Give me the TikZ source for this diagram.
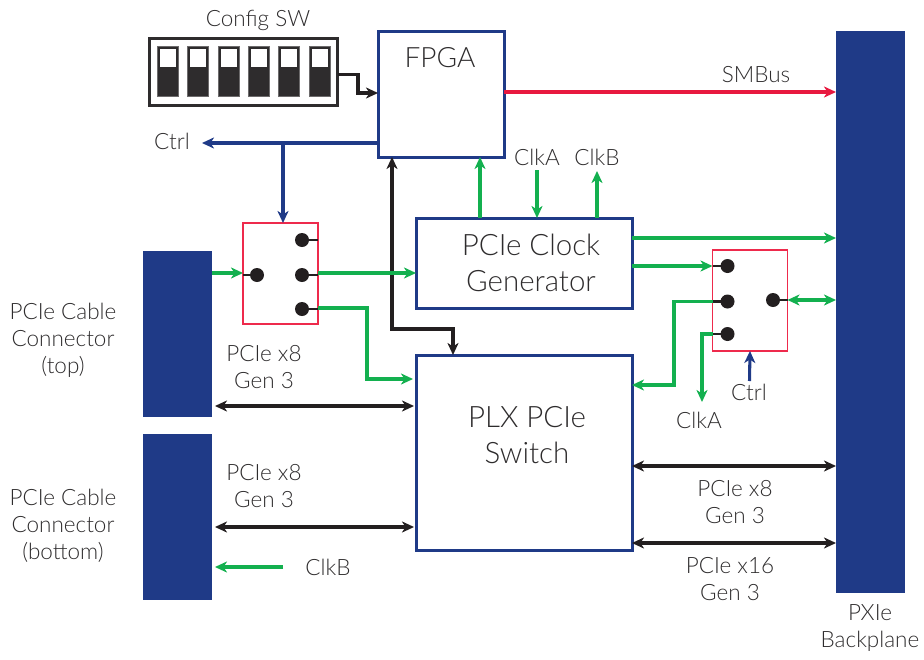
\documentclass[tikz,border=0pt]{standalone}
\usepackage{fontspec}
\setmainfont{Lato}[UprightFont=* Light]
\usetikzlibrary{arrows.meta,calc}
\definecolor{kblue}{HTML}{1F3A87}
\definecolor{kgreen}{HTML}{13B04F}
\definecolor{kred}{HTML}{E8193F}
\definecolor{kblack}{HTML}{231F20}
\definecolor{ktext}{HTML}{2E2C2D}
\definecolor{kpink}{HTML}{EE2A4C}
\tikzset{
 flow/.style={line width=3.05pt,-{Stealth[length=12pt,width=11pt,inset=3.5pt]}},
 both/.style={line width=3.05pt,{Stealth[length=12pt,width=11pt,inset=3.5pt]}-{Stealth[length=12pt,width=11pt,inset=3.5pt]}},
 blockbox/.style={draw=kblue,line width=3pt,fill=white,inner sep=0pt,outer sep=0pt},
 solid block/.style={fill=kblue,inner sep=0pt,outer sep=0pt},
 muxbox/.style={draw=kpink,line width=1.5pt,inner sep=0pt,outer sep=0pt,minimum width=75pt,minimum height=101pt},
 pin/.style={circle,fill=kblack,inner sep=0pt,outer sep=0pt,minimum size=14pt},
 stub/.style={line width=2.6pt,kblack},
 lab/.style={text=ktext,font=\fontsize{22.5}{27}\selectfont,align=center,inner sep=0pt},
 big/.style={text=ktext,font=\fontsize{29.5}{35.5}\selectfont,align=center,inner sep=0pt},
 slot/.style={fill=ktext,draw=ktext!70,line width=.8pt,minimum width=21pt,minimum height=50pt,inner sep=0pt,outer sep=0pt},
 slotw/.style={fill=white,minimum width=16pt,minimum height=18pt,inner sep=0pt,outer sep=0pt},
}
\begin{document}
\begin{tikzpicture}[x=1pt,y=-1pt]
\useasboundingbox (0,0) rectangle (924,659);
% solid blocks
\node[solid block,minimum width=69pt,minimum height=562pt] (back) at (870.5,312) {};
\node[solid block,minimum width=69pt,minimum height=166pt] (top) at (177.5,334) {};
\node[solid block,minimum width=69pt,minimum height=166pt] (bot) at (177.5,517) {};
% main boxes
\node[blockbox,minimum width=126pt,minimum height=126pt] (fpga) at (441,94) {};
\node[blockbox,minimum width=216pt,minimum height=90pt] (clk) at (524,263) {};
\node[blockbox,minimum width=216pt,minimum height=195pt] (plx) at (524,452.5) {};
% switch
\node[draw=ktext,line width=3pt,fill=white,minimum width=188pt,minimum height=67pt,inner sep=0pt,outer sep=0pt] (sw) at (243.5,72) {};
\foreach \i in {0,...,5}{
  \node[slot] (s\i) at ({168+30.3*\i},71.5) {};
  \node[slotw] (w\i) at ({168+30.3*\i},58) {};
}
% mux boxes
\node[muxbox] (m1) at (280.5,273.5) {};
\node[muxbox] (m2) at (750,300.5) {};
\node[pin] (a0) at (257,275) {};
\node[pin] (a1) at (302,240) {};
\node[pin] (a2) at (302,275) {};
\node[pin] (a3) at (302,309) {};
\node[pin] (b1) at (727.5,266) {};
\node[pin] (b2) at (727.5,301.5) {};
\node[pin] (b3) at (727.5,334) {};
\node[pin] (b0) at (773,300) {};
\draw[stub] (a0) -- (m1.west |- a0);
\draw[stub] (a1) -- (m1.east |- a1);
\draw[stub] (a2) -- (m1.east |- a2);
\draw[stub] (a3) -- (m1.east |- a3);
\draw[stub] (b1) -- (m2.west |- b1);
\draw[stub] (b2) -- (m2.west |- b2);
\draw[stub] (b3) -- (m2.west |- b3);
\draw[stub] (b0) -- (m2.east |- b0);
% labels
\node[lab] (tsw) at (258,20) {Config SW};
\node[big,font=\fontsize{28}{34}\selectfont] (tfpga) at (440,58) {FPGA};
\node[big] (tclk) at (531,263) {PCIe Clock\\Generator};
\node[big] (tplx) at (527,435) {PLX PCIe\\Switch};
\node[lab] (tctrl) at (172,141) {Ctrl};
\node[lab] (tca) at (537,157) {ClkA};
\node[lab] (tcb) at (597,157) {ClkB};
\node[lab] (tsm) at (756,75) {SMBus};
\node[lab] (ttop) at (63,340.5) {PCIe Cable\\Connector\\(top)};
\node[lab] (tbot) at (63,526) {PCIe Cable\\Connector\\(bottom)};
\node[lab] (p1) at (264,367.5) {PCIe x8\\Gen 3};
\node[lab] (p2) at (264,486.5) {PCIe x8\\Gen 3};
\node[lab] (p3) at (735,502.5) {PCIe x8\\Gen 3};
\node[lab] (p4) at (730,579.5) {PCIe x16\\Gen 3};
\node[lab] (tctrl2) at (749,392) {Ctrl};
\node[lab] (tca2) at (699,420) {ClkA};
\node[lab] (tcb2) at (328,567) {ClkB};
\node[lab] (tpx) at (870,628.5) {PXIe\\Backplane};
% helper coordinates for free ends
\coordinate (ctrlend) at (202,143);
\coordinate (caend) at (537,170);
\coordinate (cbend) at (597,171);
\coordinate (caout) at (702,402);
\coordinate (ctrlsrc) at (749.5,381);
\coordinate (cbsrc) at (283,567);
% connectors
\draw[flow,kblack] (sw.east |- 0,74.5) -- (358,74.5) -- (358,93) -- (fpga.west |- 0,93);
\draw[flow,kblue] (fpga.west |- 0,143) -- (ctrlend);
\draw[flow,kblue] (283,143) -- (283,0 |- m1.north);
\draw[both,kblack] (fpga.south -| 392,0) -- (392,329) -- (453,329) -- (plx.north -| 453,0);
\draw[flow,kgreen] (clk.north -| 480,0) -- (fpga.south -| 480,0);
\draw[flow,kgreen] (caend) -- (clk.north -| caend);
\draw[flow,kgreen] (clk.north -| cbend) -- (cbend);
\draw[flow,kred] (fpga.east |- 0,92) -- (back.west |- 0,92);
\draw[flow,kgreen] (clk.east |- 0,238) -- (back.west |- 0,238);
\draw[flow,kgreen] (clk.east |- 0,266) -- (m2.west |- 0,266);
\draw[flow,kgreen] (m2.west |- b2) -- (674,301.5) -- (674,385) -- (plx.east |- 0,385);
\draw[flow,kgreen] (m2.west |- b3) -- (702,334) -- (caout);
\draw[both,kgreen] (m2.east |- b0) -- (back.west |- b0);
\draw[flow,kblue] (ctrlsrc) -- (m2.south);
\draw[flow,kgreen] (top.east |- 0,273) -- (m1.west |- 0,273);
\draw[flow,kgreen] (m1.east |- 0,273) -- (clk.west |- 0,273);
\draw[flow,kgreen,shorten >=3pt] (m1.east |- 0,308) -- (367,308) -- (367,379) -- (plx.west |- 0,379);
\draw[both,kblack,shorten <=3pt,shorten >=2pt] (top.east |- 0,406) -- (plx.west |- 0,406);
\draw[both,kblack,shorten <=3pt,shorten >=2pt] (bot.east |- 0,527) -- (plx.west |- 0,527);
\draw[both,kblack] (plx.east |- 0,466) -- (back.west |- 0,466);
\draw[both,kblack] (plx.east |- 0,543) -- (back.west |- 0,543);
\draw[flow,kgreen,shorten >=3pt] (cbsrc) -- (bot.east |- cbsrc);
\end{tikzpicture}
\end{document}
